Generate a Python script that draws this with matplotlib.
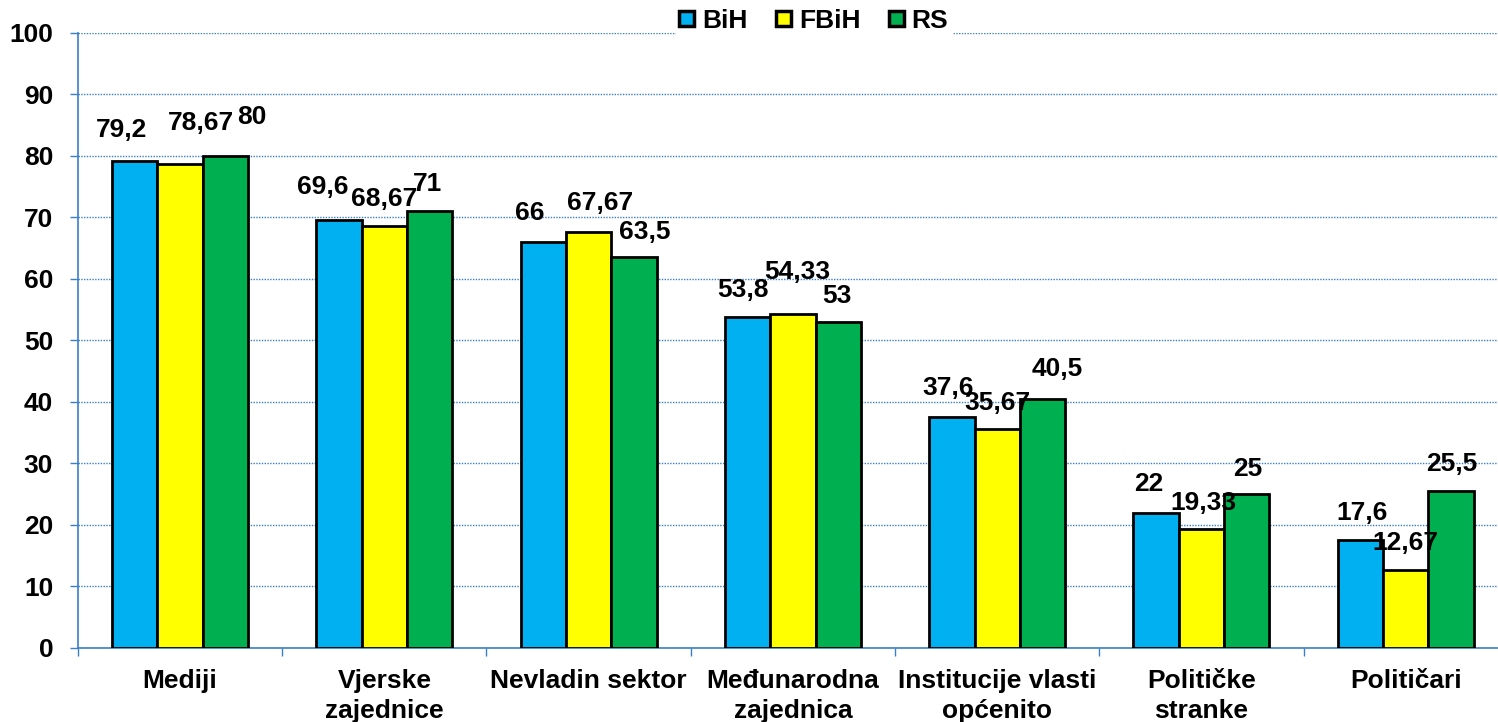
import matplotlib
matplotlib.use("Agg")
import matplotlib.pyplot as plt
import numpy as np

plt.rcParams['font.family'] = ['Liberation Sans', 'DejaVu Sans']
plt.rcParams['font.weight'] = 'bold'

categories = ["Mediji", "Vjerske\nzajednice", "Nevladin sektor", "Međunarodna\nzajednica",
              "Institucije vlasti\nopćenito", "Političke\nstranke", "Političari"]
series_names = ["BiH", "FBiH", "RS"]
bih = [79.2, 69.6, 66, 53.8, 37.6, 22, 17.6]
fbih = [78.67, 68.67, 67.67, 54.33, 35.67, 19.33, 12.67]
rs = [80, 71, 63.5, 53, 40.5, 25, 25.5]
bih_labels = ["79,2", "69,6", "66", "53,8", "37,6", "22", "17,6"]
fbih_labels = ["78,67", "68,67", "67,67", "54,33", "35,67", "19,33", "12,67"]
rs_labels = ["80", "71", "63,5", "53", "40,5", "25", "25,5"]
y_ticks = [0, 10, 20, 30, 40, 50, 60, 70, 80, 90, 100]

colors = ["#00B0F0", "#FFFF00", "#00B050"]
# label offsets in pixels (dx, dy) relative to bar top center
offsets = [
    [(-13, 31), (-16, 33), (-14, 29), (-5, 27), (-4, 29), (-7, 29), (2, 27)],
    [(21, 41), (0, 27), (11, 29), (4, 42), (0, 26), (2, 26), (0, 27)],
    [(26, 39), (-2, 27), (11, 25), (-1, 26), (15, 30), (1, 25), (1, 27)],
]

FS = 19

fig = plt.figure(figsize=(14.98, 7.22), dpi=100)
ax = fig.add_axes([0.052, 0.1025, 0.9546, 0.852])

x = np.arange(len(categories))
w = 0.222
grid_c = "#3A7FC8"
ax.set_axisbelow(True)
ax.yaxis.grid(True, color=grid_c, linestyle=(0, (1, 1)), linewidth=1.0)

all_vals = [bih, fbih, rs]
all_labels = [bih_labels, fbih_labels, rs_labels]
for i, (vals, labs) in enumerate(zip(all_vals, all_labels)):
    xs = x + (i - 1) * w
    ax.bar(xs, vals, width=w, color=colors[i], edgecolor="black", linewidth=2,
           label=series_names[i], zorder=3)
    for j, (xx, v, lab) in enumerate(zip(xs, vals, labs)):
        dx, dy = offsets[i][j]
        ax.annotate(lab, (xx, v), xytext=(dx, dy), textcoords="offset pixels",
                    ha="center", va="center", fontsize=FS, fontweight="bold",
                    color="black", zorder=5)

ax.set_xlim(-0.5, len(categories) - 0.5)
ax.set_ylim(0, 100)
ax.set_yticks(y_ticks)
ax.set_yticklabels([str(t) for t in y_ticks], fontsize=FS, fontweight="bold")
ax.set_xticks(x)
ax.set_xticklabels(categories, fontsize=FS, fontweight="bold", linespacing=1.3)
ax.tick_params(axis="x", length=0, pad=15)
ax.set_xticks(np.arange(len(categories) + 1) - 0.5, minor=True)
ax.tick_params(axis="x", which="minor", length=6, color=grid_c, width=1)
ax.tick_params(axis="y", length=5.8, color=grid_c, width=1, pad=12)

for s in ["top", "right"]:
    ax.spines[s].set_visible(False)
for s in ["left", "bottom"]:
    ax.spines[s].set_color(grid_c)
    ax.spines[s].set_linewidth(1.2)

leg = ax.legend(loc="center", bbox_to_anchor=(0.5147, 1.0195), ncol=3, frameon=True,
                fancybox=False, edgecolor="white", framealpha=1.0,
                prop={"size": FS, "weight": "bold"}, handlelength=0.55, handleheight=0.55,
                handletextpad=0.3, columnspacing=1.1, borderpad=0.15)
for h in leg.legend_handles:
    h.set_linewidth(2.5)

fig.savefig("out.png", dpi=100)
